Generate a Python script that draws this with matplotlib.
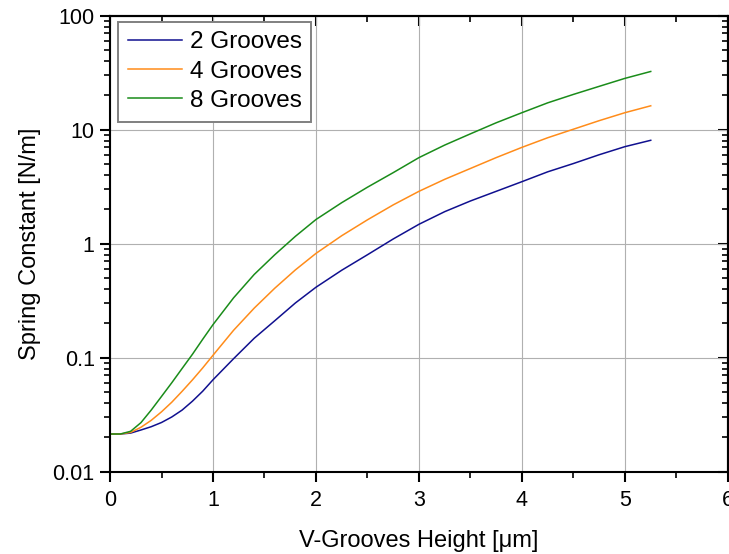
import numpy as np
import matplotlib
matplotlib.use("Agg")
import matplotlib.pyplot as plt
from matplotlib.ticker import MultipleLocator, LogLocator, FuncFormatter, NullFormatter

plt.rcParams['font.family'] = ['Liberation Sans', 'DejaVu Sans']

# V-groove height [um]
height = [0.0, 0.1, 0.2, 0.3, 0.4, 0.5, 0.6, 0.7, 0.8, 0.9, 1.0, 1.2, 1.4, 1.6, 1.8,
          2.0, 2.25, 2.5, 2.75, 3.0, 3.25, 3.5, 3.75, 4.0, 4.25, 4.5, 4.75, 5.0, 5.25]

# spring constant [N/m]
k_2 = [0.0214, 0.0214, 0.0218, 0.0232, 0.0248, 0.0270, 0.0302, 0.0347, 0.0415, 0.0508,
       0.064, 0.098, 0.148, 0.211, 0.302, 0.415, 0.585, 0.80, 1.10, 1.48,
       1.91, 2.37, 2.88, 3.5, 4.27, 5.05, 6.03, 7.1, 8.07]
k_4 = [0.0214, 0.0214, 0.0221, 0.0245, 0.0282, 0.0335, 0.0407, 0.0507, 0.0638, 0.0813,
       0.105, 0.174, 0.272, 0.407, 0.589, 0.822, 1.175, 1.62, 2.19, 2.88,
       3.67, 4.57, 5.69, 7.0, 8.5, 10.1, 12.0, 14.1, 16.2]
k_8 = [0.0214, 0.0214, 0.0226, 0.0269, 0.0347, 0.0457, 0.0603, 0.0804, 0.107, 0.145,
       0.195, 0.335, 0.537, 0.80, 1.16, 1.63, 2.29, 3.13, 4.2, 5.69,
       7.33, 9.2, 11.5, 14.1, 17.2, 20.4, 24.0, 28.2, 32.4]

labels = ['2 Grooves', '4 Grooves', '8 Grooves']
colors = ['#10108f', '#ff8c1a', '#1a8c1a']

fig = plt.figure(figsize=(7.29, 5.54), dpi=100)
ax = fig.add_axes([0.1509, 0.1486, 0.8477, 0.8231])

for k, lab, c in zip([k_2, k_4, k_8], labels, colors):
    ax.plot(height, k, color=c, lw=1.1, label=lab)

ax.set_yscale('log')
ax.set_xlim(0, 6)
ax.set_ylim(0.01, 100)

ax.xaxis.set_major_locator(MultipleLocator(1))
ax.xaxis.set_minor_locator(MultipleLocator(0.5))
ax.yaxis.set_major_locator(LogLocator(base=10))
ax.yaxis.set_minor_locator(LogLocator(base=10, subs=np.arange(2, 10)))
ax.yaxis.set_major_formatter(FuncFormatter(lambda v, p: '%g' % v))
ax.yaxis.set_minor_formatter(NullFormatter())

ax.grid(True, which='major', color='#b0b0b0', lw=0.8)
ax.set_axisbelow(True)

for s in ax.spines.values():
    s.set_linewidth(1.5)

ax.tick_params(which='major', direction='out', length=7, width=1.5, labelsize=15.5, pad=4)
ax.tick_params(which='minor', direction='out', length=4.5, width=1.2)
ax.tick_params(axis='x', which='major', pad=6)

# opposite axes with ticks pointing inwards
top = ax.secondary_xaxis('top')
top.xaxis.set_major_locator(MultipleLocator(1))
top.xaxis.set_minor_locator(MultipleLocator(0.5))
top.tick_params(which='major', direction='in', length=7, width=1.5, labeltop=False)
top.tick_params(which='minor', direction='in', length=4.5, width=1.2)
right = ax.secondary_yaxis('right')
right.yaxis.set_major_locator(LogLocator(base=10))
right.yaxis.set_minor_locator(LogLocator(base=10, subs=np.arange(2, 10)))
right.tick_params(which='major', direction='in', length=7, width=1.5, labelright=False)
right.tick_params(which='minor', direction='in', length=4.5, width=1.2, labelright=False)
for sec in (top, right):
    for s in sec.spines.values():
        s.set_linewidth(1.5)

ax.set_xlabel('V-Grooves Height [\u03bcm]', fontsize=17, labelpad=14)
ax.set_ylabel('Spring Constant [N/m]', fontsize=17, labelpad=8)

leg = ax.legend(loc='upper left', bbox_to_anchor=(0.013, 0.987), borderaxespad=0,
                fontsize=17.5, fancybox=False, framealpha=1, edgecolor='#808080',
                handlelength=2.25, handletextpad=0.3, labelspacing=0.3, borderpad=0.4)
leg.get_frame().set_linewidth(1.4)

fig.savefig('out.png', dpi=100)
